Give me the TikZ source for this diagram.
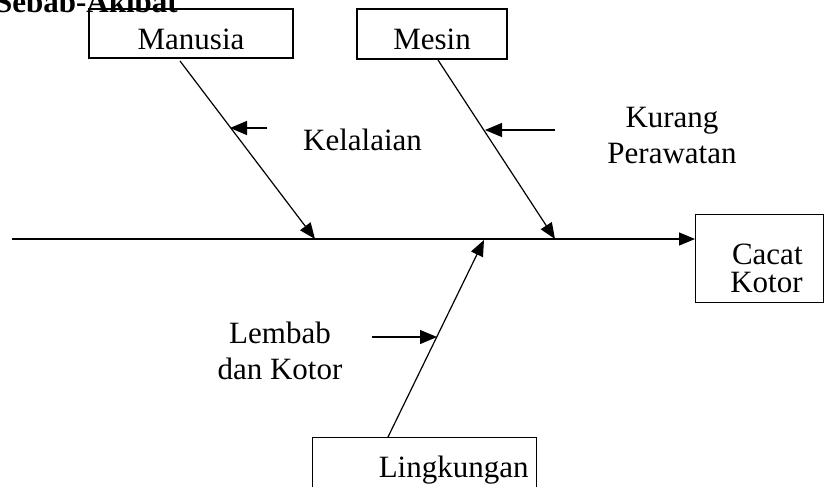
\documentclass[tikz,border=0pt]{standalone}
\usepackage{fontspec}
\setmainfont{Liberation Serif}
\usetikzlibrary{arrows.meta}
\begin{document}
\begin{tikzpicture}[x=1pt,y=-1pt,
  every node/.style={font=\fontsize{31}{36}\selectfont},
  box/.style={draw, line width=1.2pt, inner ysep=0pt},
  bone/.style={line width=1.2pt, -{Triangle[length=16pt,width=13pt]}},
  cause/.style={line width=1.2pt, -{Triangle[length=17pt,width=14pt]}},
  lbl/.style={inner sep=0pt, align=center}]
\useasboundingbox (0,0) rectangle (825,487);
\clip (0,0) rectangle (825,487);
\fill[white] (0,0) rectangle (825,487);
% title
\node[inner sep=0pt, anchor=base east, font=\fontsize{31}{36}\selectfont\bfseries] (title) at (178,13) {Sebab-Akibat};
% boxes
\node[box, minimum width=204pt, minimum height=49pt, text height=32pt, text depth=0pt] (manusia) at (191,33.5) {Manusia};
\node[box, minimum width=150pt, minimum height=50pt, text height=32pt, text depth=0pt] (mesin) at (432,34) {Mesin};
\node[box, anchor=north west, text width=86pt, inner xsep=21pt, align=right, minimum height=88pt] (cacat) at (695,214) {\rule{0pt}{40pt}Cacat\\[-8pt]Kotor};
\node[box, anchor=north west, text width=208pt, inner xsep=8pt, align=right, minimum height=80pt, text height=20pt, text depth=20pt] (lingk) at (312,437) {Lingkungan};
% spine
\coordinate (s0) at (12,239);
\coordinate (s1) at (cacat.west |- s0);
\draw[bone, line width=1.4pt] (s0) -- (s1);
% bones
\coordinate (m0) at (180,61);
\coordinate (m1) at (315,239);
\coordinate (e0) at (438,60);
\coordinate (e1) at (555,239);
\coordinate (l0) at (388,437);
\coordinate (l1) at (484,240);
\draw[bone] (m0) -- (m1);
\draw[bone] (e0) -- (e1);
\draw[bone] (l0) -- (l1);
% small cause arrows
\coordinate (ma) at (267,128);
\coordinate (mb) at (230,128);
\coordinate (ea) at (555,130);
\coordinate (eb) at (485,130);
\coordinate (la) at (372,337);
\coordinate (lb) at (437,337);
\draw[cause] (ma) -- (mb);
\draw[cause] (ea) -- (eb);
\draw[cause] (la) -- (lb);
% labels
\node[lbl, anchor=base west] (kel) at (303,150) {Kelalaian};
\node[lbl, anchor=base] (kur) at (672,163) {Kurang\\Perawatan};
\node[lbl, anchor=base] (lem) at (280,379) {Lembab\\dan Kotor};
\end{tikzpicture}
\end{document}
